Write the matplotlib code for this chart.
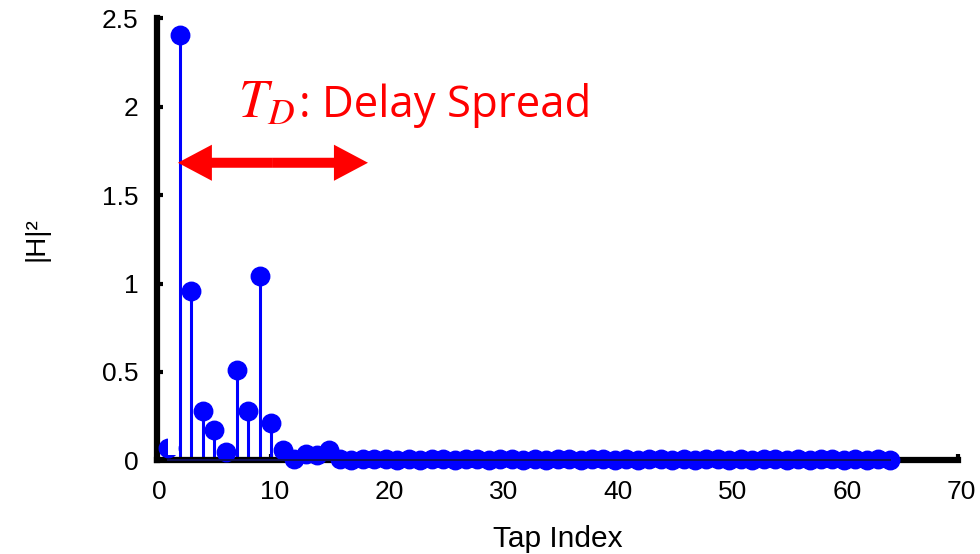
import numpy as np
import matplotlib
matplotlib.use("Agg")
import matplotlib.pyplot as plt
from matplotlib.patches import FancyArrowPatch, Rectangle
from matplotlib.transforms import ScaledTranslation

# ---- data ----
taps = list(range(1, 65))
power_head = [0.07, 2.405, 0.958, 0.28, 0.17, 0.05, 0.51, 0.28, 1.04, 0.21,
              0.06, 0.005, 0.035, 0.03, 0.06]
power_tail = [0.005, 0.0, 0.01, 0.005, 0.01, 0.0, 0.005,
              0.0, 0.01, 0.005, 0.0, 0.01, 0.005, 0.0,
              0.005, 0.01, 0.0, 0.005, 0.0, 0.01, 0.005,
              0.0, 0.005, 0.01, 0.0, 0.005, 0.0, 0.005,
              0.01, 0.0, 0.005, 0.0, 0.01, 0.005, 0.0,
              0.005, 0.0, 0.01, 0.005, 0.0, 0.005, 0.0,
              0.005, 0.01, 0.0, 0.005, 0.0, 0.005, 0.0]
power = power_head + power_tail
xticks = [0, 10, 20, 30, 40, 50, 60, 70]
yticks = [0, 0.5, 1, 1.5, 2, 2.5]
ytick_labels = ["0", "0.5", "1", "1.5", "2", "2.5"]
arrow_span = [1.84, 18.44]
arrow_y = 1.683
td_x, colon_x, label_y = 7.1, 12.45, 1.94

plt.rcParams['font.family'] = ['Liberation Sans', 'DejaVu Sans']

fig = plt.figure(figsize=(9.8, 5.54), dpi=100)
ax = fig.add_axes([0.160, 0.169, 0.818, 0.798])

markerline, stemlines, baseline = ax.stem(taps, power, linefmt='-', markerfmt='o', basefmt='-')
stemlines.set_color('#0000ff')
stemlines.set_linewidth(2.2)
stemlines.set_zorder(2)
markerline.set_color('#0000ff')
markerline.set_markersize(13.3)
markerline.set_markeredgecolor('#0000ff')
markerline.set_zorder(3)
markerline.set_clip_on(False)
baseline.set_color('#10105a')
baseline.set_linewidth(1.4)
baseline.set_zorder(3.5)
baseline.set_clip_on(False)

# white cover patch seen at the lower-left corner of the reference
ax.add_patch(Rectangle((0.98, 0.03), 0.9, 0.12, facecolor='white', edgecolor='none',
                       zorder=3.2, clip_on=False))

ax.set_xlim(0, 70)
ax.set_ylim(0, 2.5)
ax.set_xticks(xticks)
ax.set_xticklabels([str(v) for v in xticks])
ax.set_yticks(yticks)
ax.set_yticklabels(ytick_labels)

for s in ['top', 'right']:
    ax.spines[s].set_visible(False)
for s in ['left', 'bottom']:
    ax.spines[s].set_linewidth(4.5)
    ax.spines[s].set_color('black')
    ax.spines[s].set_capstyle('projecting')
    ax.spines[s].set_zorder(2.5)

ax.tick_params(axis='both', direction='in', length=4, width=3, color='black',
               labelsize=19)
ax.tick_params(axis='y', pad=13)
ax.tick_params(axis='x', pad=14)
shift = ScaledTranslation(3 / 100, 0, fig.dpi_scale_trans)
for lbl in ax.get_xticklabels():
    lbl.set_transform(lbl.get_transform() + shift)

ax.set_xlabel('Tap Index', fontsize=21.5, labelpad=15)
ax.set_ylabel('|H|²', fontsize=20, labelpad=38)

# double-headed delay-spread arrow
xm = (arrow_span[0] + arrow_span[1]) / 2
for end in arrow_span:
    arr = FancyArrowPatch((xm, arrow_y), (end, arrow_y),
                          arrowstyle='simple,head_length=24.5,head_width=26,tail_width=7.2',
                          mutation_scale=1, shrinkA=0, shrinkB=0,
                          color='#ff0000', lw=0, zorder=4)
    ax.add_patch(arr)

ax.text(td_x, label_y, r'$T_D$', color='#ff0000', fontsize=38,
        math_fontfamily='stix', ha='left', va='baseline')
ax.text(colon_x, label_y, ': Delay Spread', color='#ff0000', fontsize=31.5,
        family=['Open Sans', 'DejaVu Sans'], ha='left', va='baseline')

fig.savefig('out.png', dpi=100)
